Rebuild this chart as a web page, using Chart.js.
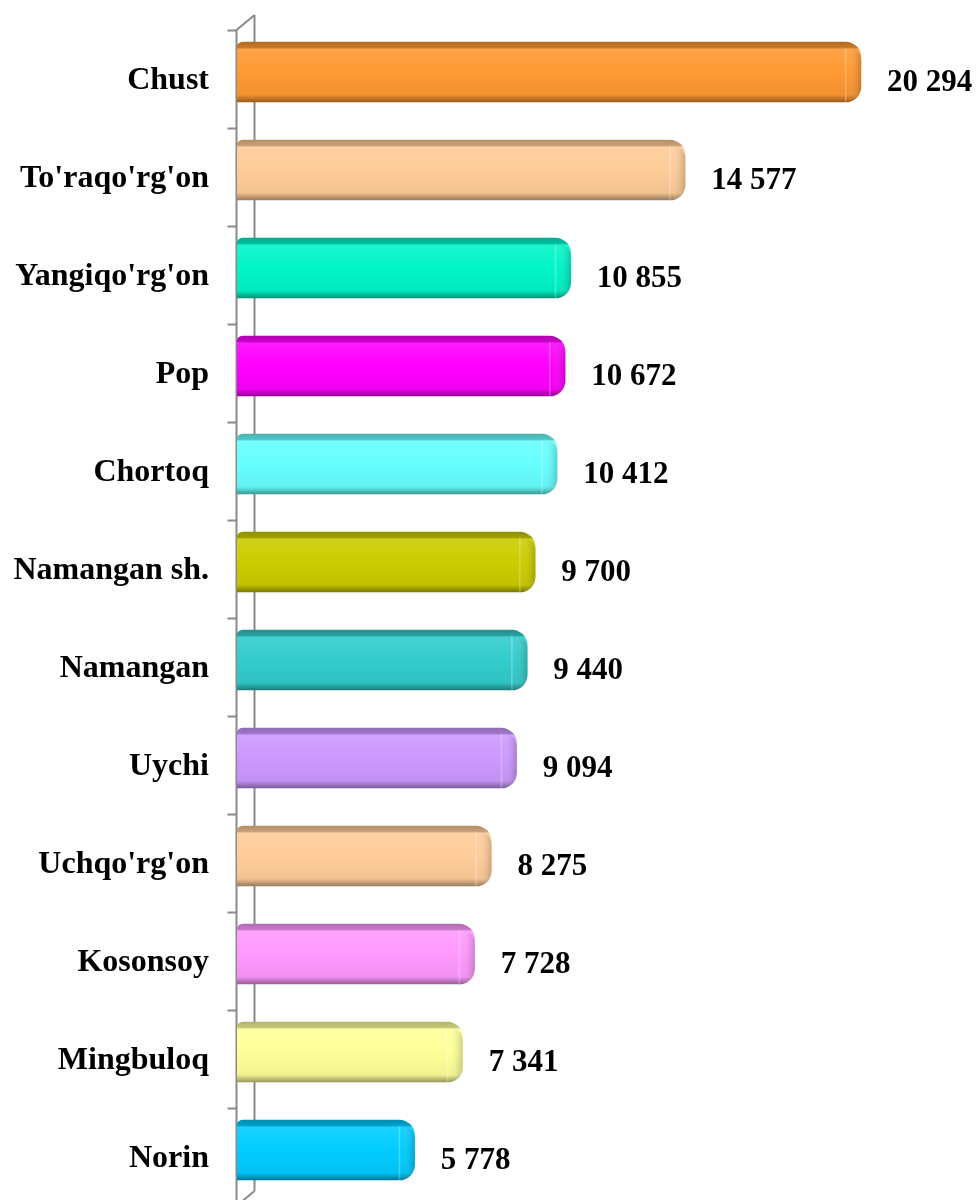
<!DOCTYPE html>
<html>
<head>
<meta charset="utf-8">
<script src="https://cdn.jsdelivr.net/npm/chart.js@4"></script>
<style>
  html, body { margin: 0; padding: 0; background: #fff; overflow: hidden; }
  #wrap { width: 980px; height: 1200px; position: relative; }
</style>
</head>
<body>
<div id="wrap"><canvas id="myChart"></canvas></div>
<script>
let districts = [
  "Chust",
  "To'raqo'rg'on",
  "Yangiqo'rg'on",
  "Pop",
  "Chortoq",
  "Namangan sh.",
  "Namangan",
  "Uychi",
  "Uchqo'rg'on",
  "Kosonsoy",
  "Mingbuloq",
  "Norin",
];
let counts = [20294, 14577, 10855, 10672, 10412, 9700, 9440, 9094, 8275, 7728, 7341, 5778];
let barColors = [
  "#FF9933",
  "#FFCC99",
  "#00F5C8",
  "#FF00FF",
  "#66FFFF",
  "#CCCC00",
  "#33CCCC",
  "#CC99FF",
  "#FFCC99",
  "#FF99FF",
  "#FFFF99",
  "#00CCFF",
];

function shade(hex, f) {
  let n = parseInt(hex.slice(1), 16);
  let r = (n >> 16) & 255, g = (n >> 8) & 255, b = n & 255;
  if (f < 0) {
    r = Math.round(r * (1 + f)); g = Math.round(g * (1 + f)); b = Math.round(b * (1 + f));
  } else {
    r = Math.round(r + (255 - r) * f); g = Math.round(g + (255 - g) * f); b = Math.round(b + (255 - b) * f);
  }
  return "rgb(" + r + "," + g + "," + b + ")";
}

function formatNum(v) {
  return String(v).replace(/\B(?=(\d{3})+(?!\d))/g, " ");
}

const DEPTH_X = 18;
const DEPTH_Y = 15;
const SHIFT = 7;

// grey 3D wall on the left with the category ticks
const wallPlugin = {
  id: "wall",
  beforeDatasetsDraw(chart) {
    const ctx = chart.ctx;
    const area = chart.chartArea;
    const x0 = Math.round(area.left) - 0.5;
    const top = area.top + SHIFT;
    const bottom = area.bottom + SHIFT;
    ctx.save();
    ctx.strokeStyle = "#8a8a8a";
    ctx.lineWidth = 2;
    ctx.beginPath();
    ctx.moveTo(x0, top);
    ctx.lineTo(x0, bottom);
    ctx.moveTo(x0 + DEPTH_X, top - DEPTH_Y);
    ctx.lineTo(x0 + DEPTH_X, bottom - DEPTH_Y);
    ctx.moveTo(x0, top);
    ctx.lineTo(x0 + DEPTH_X, top - DEPTH_Y);
    ctx.moveTo(x0, bottom);
    ctx.lineTo(x0 + DEPTH_X, bottom - DEPTH_Y);
    const step = (area.bottom - area.top) / districts.length;
    for (let i = 0; i <= districts.length; i++) {
      const ty = Math.round(area.top + step * i + SHIFT) + 0.5;
      ctx.moveTo(x0 - 9, ty);
      ctx.lineTo(x0, ty);
    }
    ctx.stroke();
    ctx.restore();
  },
};

// bevel shading at the rounded end and the value labels
const labelPlugin = {
  id: "valueLabels",
  afterDatasetsDraw(chart) {
    const ctx = chart.ctx;
    const meta = chart.getDatasetMeta(0);
    ctx.save();
    meta.data.forEach((bar, i) => {
      const h = bar.height;
      const top = bar.y - h / 2;
      const capX = bar.x - 16;
      const g = ctx.createLinearGradient(capX, 0, bar.x, 0);
      g.addColorStop(0, "rgba(255,255,255,0.35)");
      g.addColorStop(0.15, "rgba(255,255,255,0)");
      g.addColorStop(1, "rgba(0,0,0,0.18)");
      ctx.fillStyle = g;
      ctx.beginPath();
      ctx.moveTo(capX, top + 6);
      ctx.lineTo(bar.x - 14, top + 6);
      ctx.quadraticCurveTo(bar.x, top + 6, bar.x, top + 20);
      ctx.lineTo(bar.x, top + h - 16);
      ctx.quadraticCurveTo(bar.x, top + h, bar.x - 14, top + h);
      ctx.lineTo(capX, top + h);
      ctx.closePath();
      ctx.fill();

      ctx.fillStyle = "#000";
      ctx.font = "bold 31px 'Liberation Serif', 'Times New Roman', serif";
      ctx.textAlign = "left";
      ctx.textBaseline = "middle";
      ctx.fillText(formatNum(counts[i]), bar.x + 26, bar.y + SHIFT + 4);
    });
    ctx.restore();
  },
};

function barFill(context) {
  const chart = context.chart;
  const base = barColors[context.dataIndex];
  if (!chart.chartArea) return base;
  const cy = chart.scales.y.getPixelForValue(context.dataIndex);
  const g = chart.ctx.createLinearGradient(0, cy - 30, 0, cy + 30);
  g.addColorStop(0, shade(base, -0.3));
  g.addColorStop(0.09, shade(base, -0.22));
  g.addColorStop(0.12, shade(base, 0.1));
  g.addColorStop(0.3, shade(base, 0.05));
  g.addColorStop(0.5, base);
  g.addColorStop(0.88, shade(base, -0.05));
  g.addColorStop(1, shade(base, -0.4));
  return g;
}

function chartJs() {
  const ctx = document.getElementById("myChart");
  new Chart(ctx, {
    type: "bar",
    data: {
      labels: districts,
      datasets: [
        {
          label: "",
          data: counts,
          backgroundColor: barFill,
          borderWidth: 0,
          borderSkipped: false,
          borderRadius: { topLeft: 6, bottomLeft: 0, topRight: 16, bottomRight: 16 },
          barThickness: 60,
        },
      ],
    },
    options: {
      indexAxis: "y",
      responsive: true,
      maintainAspectRatio: false,
      animation: false,
      layout: { padding: { top: 23, bottom: 1, right: 5, left: 0 } },
      scales: {
        x: {
          display: false,
          min: 0,
          max: 24000,
        },
        y: {
          afterFit(scale) {
            scale.width = 237;
            scale.paddingTop = 0;
            scale.paddingBottom = 0;
          },
          border: { display: false },
          grid: { display: false, drawTicks: false },
          ticks: {
            color: "#000",
            padding: 28,
            labelOffset: SHIFT + 2,
            font: { family: "'Liberation Serif', 'Times New Roman', serif", size: 32, weight: "bold" },
          },
        },
      },
      plugins: {
        legend: { display: false },
        tooltip: { enabled: false },
      },
    },
    plugins: [wallPlugin, labelPlugin],
  });
}

chartJs();
</script>
</body>
</html>
